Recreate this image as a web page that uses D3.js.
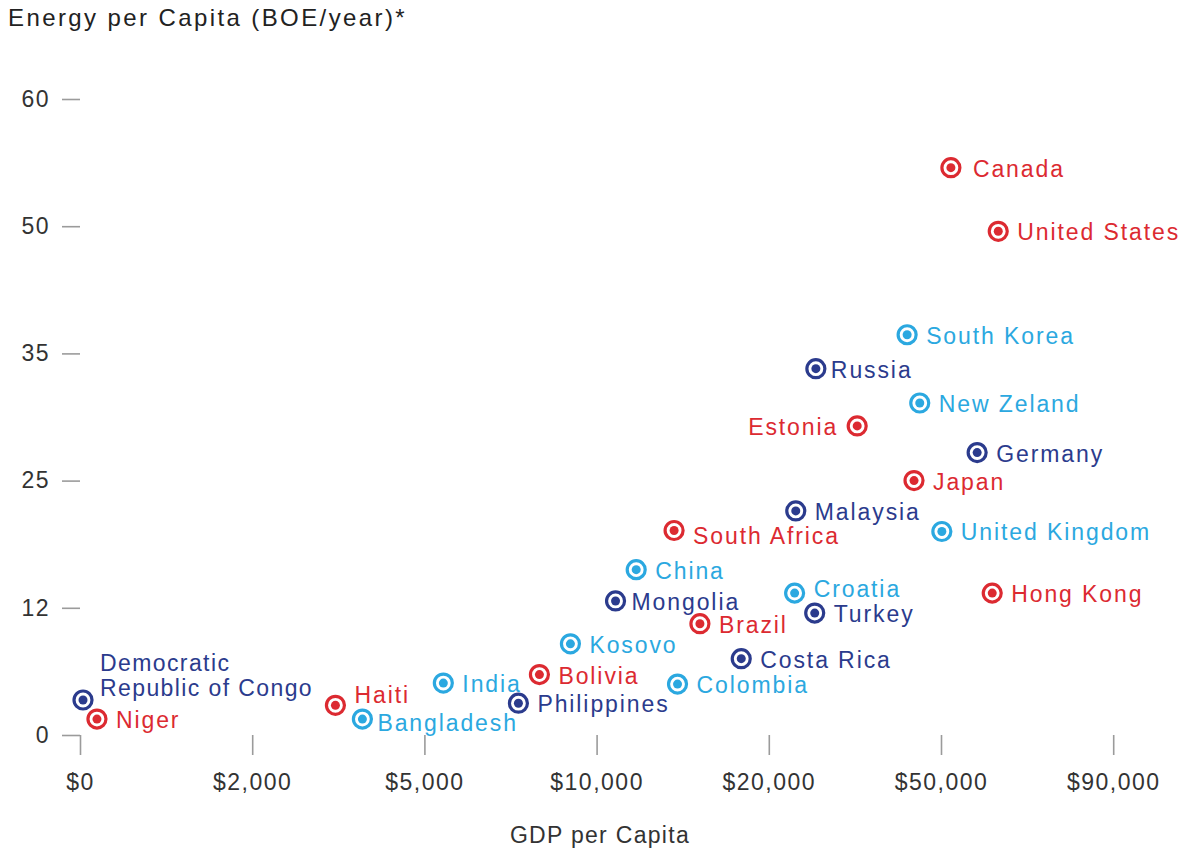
<!DOCTYPE html>
<html>
<head>
<meta charset="utf-8">
<script src="https://cdn.jsdelivr.net/npm/d3@7"></script>
<style>
  body { margin: 0; background: #fff; }
  text { font-family: "Liberation Sans", Arial, sans-serif; }
</style>
</head>
<body>
<div id="scatter"></div>
<script>
// data
var countries = ["Canada", "United States", "South Korea", "Russia", "New Zeland", "Estonia",
  "Germany", "Japan", "Malaysia", "South Africa", "United Kingdom", "China", "Croatia",
  "Hong Kong", "Mongolia", "Turkey", "Brazil", "Kosovo", "Costa Rica", "Bolivia", "India",
  "Colombia", "Democratic Republic of Congo", "Haiti", "Philippines", "Niger", "Bangladesh"];
var gdp = [52300, 63300, 44100, 28200, 46300, 35400,
  58400, 45300, 24700, 14500, 50200, 12300, 24500,
  61900, 11100, 28000, 16000, 9240, 18400, 8340, 5550,
  14700, 35, 3450, 7730, 197, 3920];
var energy = [54.6, 49.4, 37.2, 33.8, 31.1, 29.3,
  27.2, 25.0, 21.9, 19.9, 19.8, 15.9, 13.5,
  13.5, 12.7, 11.5, 10.5, 8.6, 7.2, 5.7, 4.9,
  4.8, 3.3, 2.8, 3.0, 1.5, 1.5];
var group = ["red", "red", "light", "dark", "light", "red",
  "dark", "red", "dark", "red", "light", "light", "light",
  "red", "dark", "dark", "red", "light", "dark", "red", "light",
  "light", "dark", "red", "dark", "red", "light"];

var xTicks = [0, 2000, 5000, 10000, 20000, 50000, 90000];
var yTicks = [0, 12, 25, 35, 50, 60];

var colors = { red: "#dc2a31", dark: "#2b3b8d", light: "#2ba8e0" };

// Step 1: chart size
var svgWidth = 1194;
var svgHeight = 852;
var margin = { left: 80, top: 99 };
var xStep = 172.2;
var yStep = 127.2;

var svg = d3.select("#scatter")
  .append("svg")
  .attr("width", svgWidth)
  .attr("height", svgHeight);

var chartGroup = svg.append("g")
  .attr("transform", `translate(${margin.left}, ${margin.top})`);

// Step 2: piecewise scales (ticks are evenly spaced)
var xScale = d3.scaleLinear()
  .domain(xTicks)
  .range(xTicks.map((d, i) => i * xStep));

var yScale = d3.scaleLinear()
  .domain(yTicks)
  .range(yTicks.map((d, i) => (yTicks.length - 1 - i) * yStep));

var height = yScale(0);

// Step 3: axes
var xAxis = d3.axisBottom(xScale)
  .tickValues(xTicks)
  .tickSize(20)
  .tickPadding(19)
  .tickFormat(d => "$" + d3.format(",")(d));

var yAxis = d3.axisLeft(yScale)
  .tickValues(yTicks)
  .tickSize(18)
  .tickPadding(12);

var xg = chartGroup.append("g")
  .attr("transform", `translate(0, ${height})`)
  .call(xAxis);
var yg = chartGroup.append("g").call(yAxis);

[xg, yg].forEach(function(g) {
  g.select(".domain").remove();
  g.selectAll(".tick line").attr("stroke", "#9b9b9b").attr("stroke-width", 1.6);
  g.selectAll(".tick text")
    .attr("fill", "#333")
    .attr("font-size", "23px")
    .attr("font-family", "Liberation Sans, Arial, sans-serif")
    .style("letter-spacing", "1.5px");
});

// titles
svg.append("text")
  .attr("x", 8)
  .attr("y", 26)
  .attr("fill", "#222")
  .attr("font-size", "24px")
  .style("letter-spacing", "2.4px")
  .text("Energy per Capita (BOE/year)*");

svg.append("text")
  .attr("x", 600)
  .attr("y", 843)
  .attr("text-anchor", "middle")
  .attr("fill", "#333")
  .attr("font-size", "23px")
  .style("letter-spacing", "1.3px")
  .text("GDP per Capita");

// Step 4: points
var points = countries.map((c, i) => ({ name: c, gdp: gdp[i], energy: energy[i], group: group[i] }));

var dots = chartGroup.selectAll(".dot")
  .data(points)
  .enter()
  .append("g")
  .attr("class", "dot")
  .attr("transform", d => `translate(${xScale(d.gdp)}, ${yScale(d.energy)})`);

dots.append("circle")
  .attr("r", 9)
  .attr("fill", "#fff")
  .attr("stroke", d => colors[d.group])
  .attr("stroke-width", 3.2);

dots.append("circle")
  .attr("r", 4.5)
  .attr("fill", d => colors[d.group]);

// Step 5: labels (offsets from the marker)
var labelShift = { "Russia": 15, "Mongolia": 16, "Bangladesh": 15, "Canada": 22, "Estonia": -19 };
var labelLift = { "Haiti": -11, "Croatia": -5, "South Africa": 4, "Bangladesh": 3 };

dots.filter(d => d.name !== "Democratic Republic of Congo")
  .append("text")
  .attr("x", d => labelShift[d.name] || 19)
  .attr("y", d => 1 + (labelLift[d.name] || 0))
  .attr("text-anchor", d => d.name === "Estonia" ? "end" : "start")
  .attr("dominant-baseline", "central")
  .attr("fill", d => colors[d.group])
  .attr("font-size", "23px")
  .style("letter-spacing", "1.9px")
  .text(d => d.name);

var congo = dots.filter(d => d.name === "Democratic Republic of Congo")
  .append("text")
  .attr("fill", d => colors[d.group])
  .attr("font-size", "23px")
  .style("letter-spacing", "1.4px");
congo.append("tspan").attr("x", 17).attr("y", -29).text("Democratic");
congo.append("tspan").attr("x", 17).attr("y", -4).text("Republic of Congo");
</script>
</body>
</html>
